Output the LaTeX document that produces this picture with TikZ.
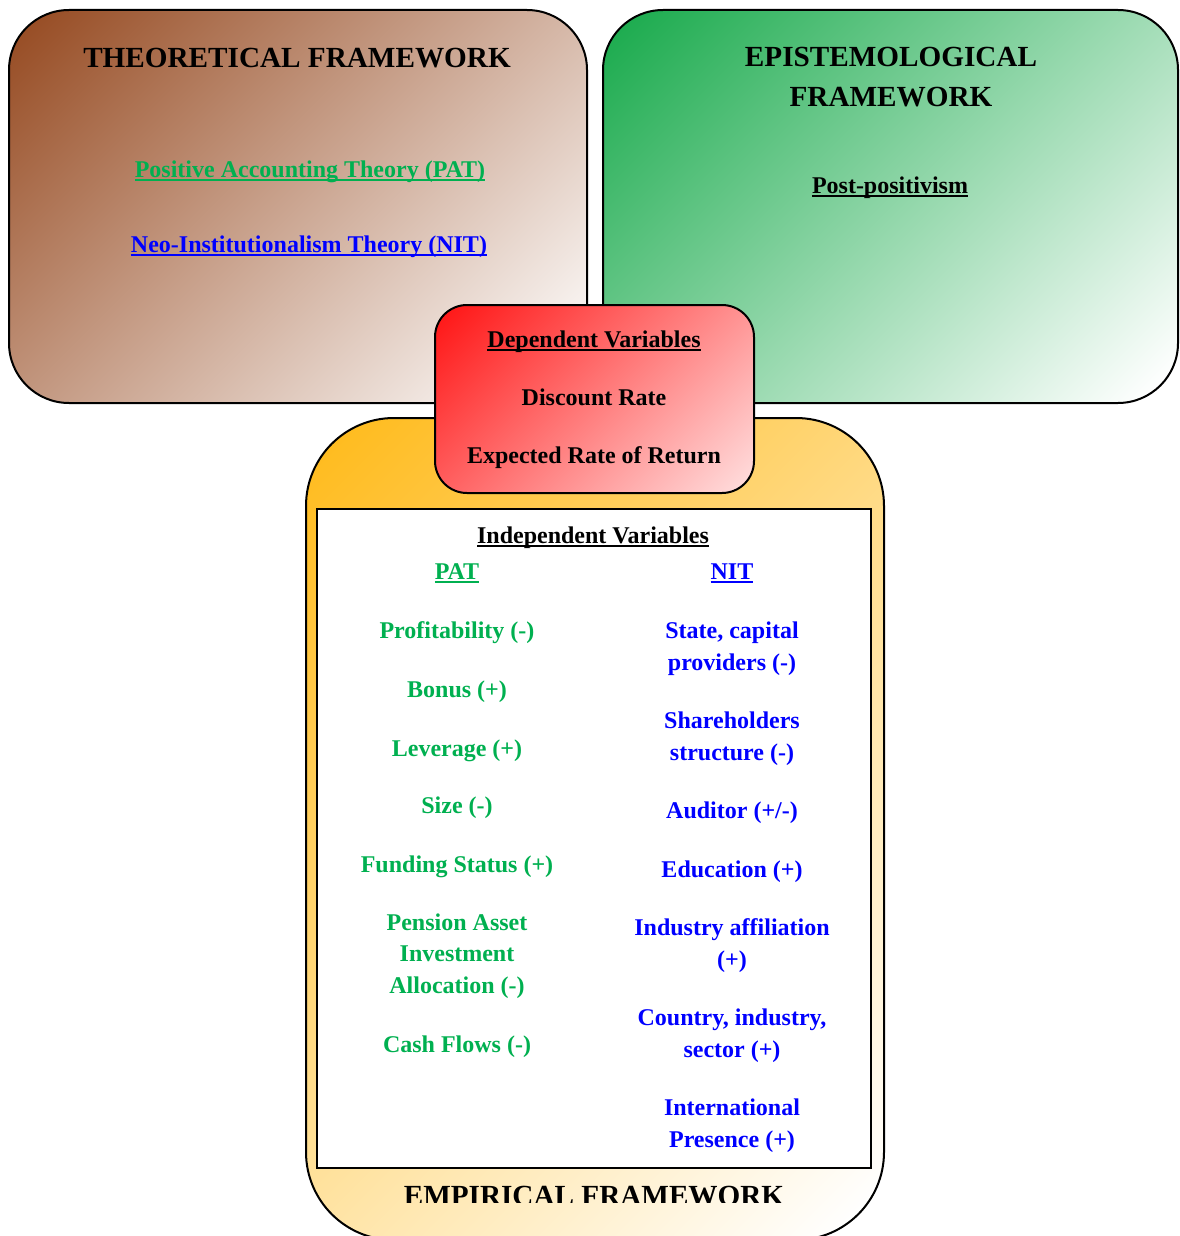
\documentclass[tikz,border=0pt]{standalone}
\usepackage{fontspec}
\setmainfont{Liberation Serif}
\definecolor{brownA}{RGB}{152,78,38}
\definecolor{greenA}{RGB}{30,172,80}
\definecolor{redA}{RGB}{255,25,25}
\definecolor{orangeA}{RGB}{255,188,32}
\definecolor{patgreen}{RGB}{0,176,80}
\definecolor{nitblue}{RGB}{0,0,255}
\colorlet{fadetop}{white}
\colorlet{fadebot}{white}
\pgfdeclareverticalshading[fadetop,fadebot]{diagfade}{100bp}{color(0bp)=(fadebot); color(17bp)=(fadebot); color(83bp)=(fadetop); color(100bp)=(fadetop)}
\newcommand{\ulbar}[1]{\setbox0\hbox{#1}\rlap{\rule[-1.8pt]{\wd0}{0.9pt}}\box0}
\tikzset{
  frame/.style={draw=black, line width=1pt},
  diagfill/.style 2 args={/utils/exec={\colorlet{fadetop}{#1}\colorlet{fadebot}{#2}}, shading=diagfade, shading angle=45},
  lbl/.style={font=\bfseries\fontsize{12}{15.75}\selectfont, align=center, anchor=base, inner sep=0pt},
  head/.style={lbl, font=\bfseries\fontsize{14.6}{20}\selectfont},
  pat/.style={lbl, text=patgreen},
  nit/.style={lbl, text=nitblue}
}
\begin{document}
\begin{tikzpicture}[x=0.5pt, y=-0.5pt]
\clip (0,0) rectangle (1179,1236);
% framework boxes
\draw[frame, rounded corners=30pt, diagfill={brownA}{white}] (9,10) rectangle (587,403);
\draw[frame, rounded corners=30pt, diagfill={greenA}{white}] (603,10) rectangle (1178,403);
\draw[frame, rounded corners=44pt, diagfill={orangeA}{white}] (306,418) rectangle (884,1240);
\draw[line width=1pt, fill=white] (317,509) rectangle (871,1168);
\draw[frame, rounded corners=16pt, diagfill={redA}{redA!16}] (435,305) rectangle (754,493);
% theoretical
\node[head] (theo) at (297,68) {THEORETICAL FRAMEWORK};
\node[pat] (patth) at (310,177) {\ulbar{Positive Accounting Theory (PAT)}};
\node[nit] (nitth) at (309,252) {\ulbar{Neo-Institutionalism Theory (NIT)}};
% epistemological (base = last line)
\node[head] (epis) at (891,106) {EPISTEMOLOGICAL\\FRAMEWORK};
\node[lbl] (post) at (890,193) {\ulbar{Post-positivism}};
% dependent
\node[lbl] (dep) at (594,347) {\ulbar{Dependent Variables}};
\node[lbl] (disc) at (594,405) {Discount Rate};
\node[lbl] (ret) at (594,463) {Expected Rate of Return};
% independent
\node[lbl] (indep) at (593,543) {\ulbar{Independent Variables}};
\node[pat] (pat) at (457,579) {\ulbar{PAT}};
\node[nit] (nit) at (732,579) {\ulbar{NIT}};
\foreach \y/\t [count=\i] in {638/Profitability (-), 697/Bonus (+), 756/Leverage (+), 813/Size (-), 872/Funding Status (+), {993/Pension Asset\\Investment\\Allocation (-)}, 1052/Cash Flows (-)}
  \node[pat] (patv\i) at (457,\y) {\t};
\foreach \y/\t [count=\i] in {{670/State, capital\\providers (-)}, {760/Shareholders\\structure (-)}, 818/{Auditor (+/-)}, 877/Education (+), {967/Industry affiliation\\(+)}, {1057/Country, industry,\\sector (+)}, {1147/International\\Presence (+)}}
  \node[nit] (nitv\i) at (732,\y) {\t};
% empirical
\begin{scope}
\clip (300,1100) rectangle (890,1202);
\node[head] (emp) at (594,1205) {EMPIRICAL FRAMEWORK};
\end{scope}
\end{tikzpicture}
\end{document}
